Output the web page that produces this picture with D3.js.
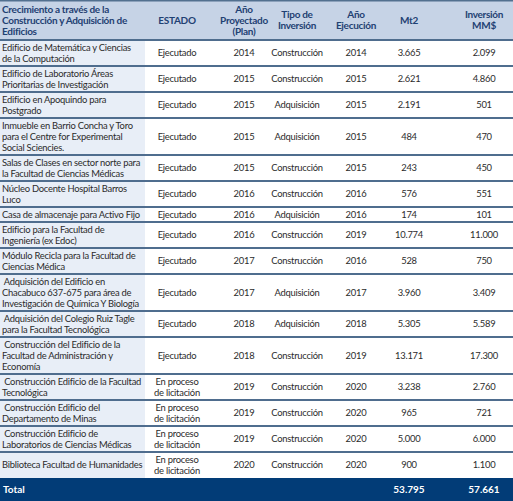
<!DOCTYPE html>
<html><head><meta charset="utf-8">
<script src="https://cdn.jsdelivr.net/npm/d3@7"></script>
<style>
html,body{margin:0;padding:0;background:#fff;}
svg{display:block;}
text{font-family:Lato,"Open Sans",sans-serif;}
</style></head>
<body><svg id="c" width="513" height="501"></svg>
<script>
const headers = [
  ["Crecimiento a través de la","Construcción y Adquisición de","Edificios"],
  ["ESTADO"],
  ["Año","Proyectado","(Plan)"],
  ["Tipo de","Inversión"],
  ["Año","Ejecución"],
  ["Mt2"],
  ["Inversión","MM$"]
];
const proyectos = [
  ["Edificio de Matemática y Ciencias","de la Computación"],
  ["Edificio de Laboratorio Áreas","Prioritarias de Investigación"],
  ["Edificio en Apoquindo para","Postgrado"],
  ["Inmueble en Barrio Concha y Toro","para el Centre for Experimental","Social Sciencies."],
  ["Salas de Clases en sector norte para","la Facultad de Ciencias Médicas"],
  ["Núcleo Docente Hospital Barros","Luco"],
  ["Casa de almacenaje para Activo Fijo"],
  ["Edificio para la Facultad de","Ingeniería (ex Edoc)"],
  ["Módulo Recicla para la Facultad de","Ciencias Médica"],
  [" Adquisición del Edificio en","Chacabuco 637-675 para área de","Investigación de Química Y Biología"],
  [" Adquisición del Colegio Ruiz Tagle","para la Facultad Tecnológica"],
  [" Construcción del Edificio de la","Facultad de Administración y","Economía"],
  [" Construcción Edificio de la Facultad","Tecnológica"],
  [" Construcción Edificio del","Departamento de Minas"],
  [" Construcción Edificio de","Laboratorios de Ciencias Médicas"],
  ["Biblioteca Facultad de Humanidades"]
];
const EJ = ["Ejecutado"], LIC = ["En proceso","de licitación"];
const estados = [EJ,EJ,EJ,EJ,EJ,EJ,EJ,EJ,EJ,EJ,EJ,EJ,LIC,LIC,LIC,LIC];
const anioPlan = [2014,2015,2015,2015,2015,2016,2016,2016,2017,2017,2018,2018,2019,2019,2019,2020];
const tipos = ["Construcción","Construcción","Adquisición","Adquisición","Construcción","Construcción","Adquisición","Construcción","Construcción","Adquisición","Adquisición","Construcción","Construcción","Construcción","Construcción","Construcción"];
const anioEjec = [2014,2015,2015,2015,2015,2016,2016,2019,2016,2017,2018,2019,2020,2020,2020,2020];
const mt2 = [3665,2621,2191,484,243,576,174,10774,528,3960,5305,13171,3238,965,5000,900];
const inversion = [2099,4860,501,470,450,551,101,11000,750,3409,5589,17300,2760,721,6000,1100];
const totalLabel = "Total";
const totalMt2 = 53795, totalInv = 57661;

const loc = d3.formatLocale({decimal:",", thousands:".", grouping:[3], currency:["$",""]});
const fmt = loc.format(",d");

const W = 513, H = 501;
const svg = d3.select("#c");
const colX = [2, 177, 244, 297, 356, 409, 484]; // text anchors
const col1W = 145;
const LH = 11;
const headerH = 40;
const FS = 9.4, HFS = 10;

const rows = proyectos.map((p,i)=>({
  cells:[p, estados[i], [String(anioPlan[i])], [tipos[i]], [String(anioEjec[i])], [fmt(mt2[i])], [fmt(inversion[i])]]
}));
rows.forEach(r=>{ const n = d3.max(r.cells, c=>c.length); r.h = LH*n + 4; });
let y = headerH;
rows.forEach(r=>{ r.y = y; y += r.h; });
const bodyEnd = y;

// header bg
svg.append("rect").attr("x",0).attr("y",0).attr("width",W).attr("height",headerH).attr("fill","#c6d3e6");
svg.append("rect").attr("x",0).attr("y",0).attr("width",W).attr("height",1.5).attr("fill","#52708f");
// first col bg
svg.append("rect").attr("x",0).attr("y",headerH).attr("width",col1W).attr("height",bodyEnd-headerH).attr("fill","#e8eef7");

// header text
const hg = svg.append("g").attr("font-weight","bold").attr("font-size",HFS).attr("fill","#1f4173").attr("letter-spacing",-0.3);
headers.forEach((lines,ci)=>{
  const t = hg.append("text").attr("text-anchor", ci===0?"start":"middle");
  const cy = headerH/2;
  lines.forEach((l,li)=>{
    t.append("tspan").attr("x",colX[ci]).attr("y", cy + (li-(lines.length-1)/2)*LH).attr("dy","0.35em").text(l);
  });
});

// body rows
const bg = svg.append("g").attr("font-size",FS).attr("fill","#2b2b2b").attr("letter-spacing",-0.25);
rows.forEach(r=>{
  const cy = r.y + r.h/2;
  r.cells.forEach((lines,ci)=>{
    const t = bg.append("text").attr("text-anchor", ci===0?"start":"middle");
    lines.forEach((l,li)=>{
      t.append("tspan").attr("x",colX[ci]).attr("y", cy + (li-(lines.length-1)/2)*LH).attr("dy","0.35em").attr("xml:space","preserve").text(l);
    });
  });
});
// separators
svg.append("g").selectAll("line").data([headerH].concat(rows.slice(0,-1).map(r=>r.y+r.h))).join("line")
  .attr("x1",0).attr("x2",W).attr("y1",d=>d).attr("y2",d=>d)
  .attr("stroke","#4f6d8e").attr("stroke-width",1.8);

// total row
svg.append("rect").attr("x",0).attr("y",bodyEnd).attr("width",W).attr("height",H-bodyEnd).attr("fill","#023c77");
const tg = svg.append("g").attr("font-weight","bold").attr("font-size",HFS).attr("fill","#fff");
const ty = bodyEnd + (H-bodyEnd)/2;
tg.append("text").attr("x",colX[0]+1).attr("y",ty).attr("dy","0.35em").text(totalLabel);
tg.append("text").attr("x",colX[5]).attr("y",ty).attr("dy","0.35em").attr("text-anchor","middle").text(fmt(totalMt2));
tg.append("text").attr("x",colX[6]).attr("y",ty).attr("dy","0.35em").attr("text-anchor","middle").text(fmt(totalInv));
</script></body></html>
